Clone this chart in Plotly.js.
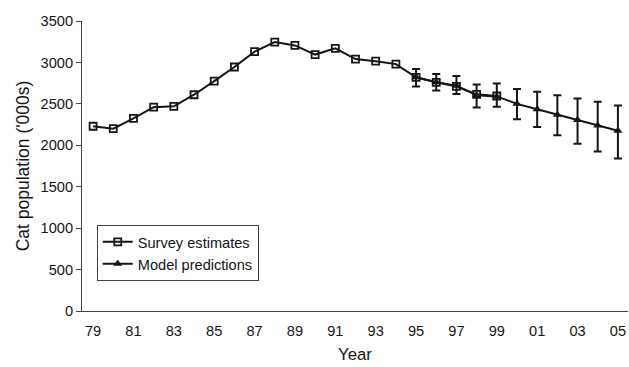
<!DOCTYPE html>
<html>
<head>
<meta charset="utf-8">
<script src="https://cdn.plot.ly/plotly-3.0.1.min.js"></script>
<style>html,body{margin:0;padding:0;background:#fff;}#chart{width:629px;height:367px;}</style>
</head>
<body>
<div id="chart"></div>
<script>
const surveyYears = [1979,1980,1981,1982,1983,1984,1985,1986,1987,1988,1989,1990,1991,1992,1993,1994,1995,1996,1997,1998,1999];
const surveyValues = [2230,2200,2325,2460,2470,2610,2775,2945,3130,3245,3205,3095,3170,3040,3015,2980,2820,2760,2710,2615,2595];
const modelYears = [1995,1996,1997,1998,1999,2000,2001,2002,2003,2004,2005];
const modelValues = [2820,2760,2720,2605,2590,2500,2435,2370,2305,2240,2175];
const modelErrPlus = [100,100,115,130,155,180,210,235,260,285,305];
const modelErrMinus = [110,100,100,150,125,185,215,250,285,315,335];
const tickYears = [1979,1981,1983,1985,1987,1989,1991,1993,1995,1997,1999,2001,2003,2005];
const tickLabels = tickYears.map(y => String(y).slice(2));

const traces = [
  {
    x: surveyYears, y: surveyValues, name: 'Survey estimates', type: 'scatter', mode: 'lines+markers',
    line: {color: '#151515', width: 2},
    marker: {symbol: 'square-open', size: 7, color: '#151515', line: {width: 1.8}}
  },
  {
    x: modelYears, y: modelValues, name: 'Model predictions', type: 'scatter', mode: 'lines+markers',
    line: {color: '#151515', width: 2},
    marker: {symbol: 'triangle-up', size: 8, color: '#151515'},
    error_y: {type: 'data', array: modelErrPlus, arrayminus: modelErrMinus, visible: true, color: '#151515', thickness: 2, width: 4}
  }
];

const layout = {
  width: 629, height: 367,
  margin: {l: 82, r: 1, t: 21, b: 56},
  paper_bgcolor: '#fff', plot_bgcolor: '#fff',
  font: {family: 'Liberation Sans, Arial, sans-serif', color: '#151515', size: 14.6},
  showlegend: true,
  legend: {
    x: 0.027, y: 0.297, xanchor: 'left', yanchor: 'top',
    bgcolor: '#fff', bordercolor: '#444', borderwidth: 1,
    font: {size: 14.6, color: '#151515'}, tracegroupgap: 0, itemwidth: 30
  },
  xaxis: {
    range: [1978.45, 2005.5],
    tickvals: tickYears, ticktext: tickLabels,
    showgrid: false, zeroline: false,
    showline: true, linecolor: '#444', linewidth: 1,
    ticks: 'outside', ticklen: 6, tickcolor: 'rgba(0,0,0,0)',
    tickfont: {size: 14.6},
    title: {text: 'Year', font: {size: 16.8}, standoff: 10}
  },
  yaxis: {
    range: [0, 3500], dtick: 500,
    showgrid: false, zeroline: false,
    showline: true, linecolor: '#444', linewidth: 1,
    ticks: 'outside', ticklen: 5, tickcolor: '#444',
    tickfont: {size: 14.6},
    title: {text: "Cat population ('000s)", font: {size: 17.5}, standoff: 6}
  }
};

Plotly.newPlot('chart', traces, layout, {staticPlot: true, displayModeBar: false});
</script>
</body>
</html>
